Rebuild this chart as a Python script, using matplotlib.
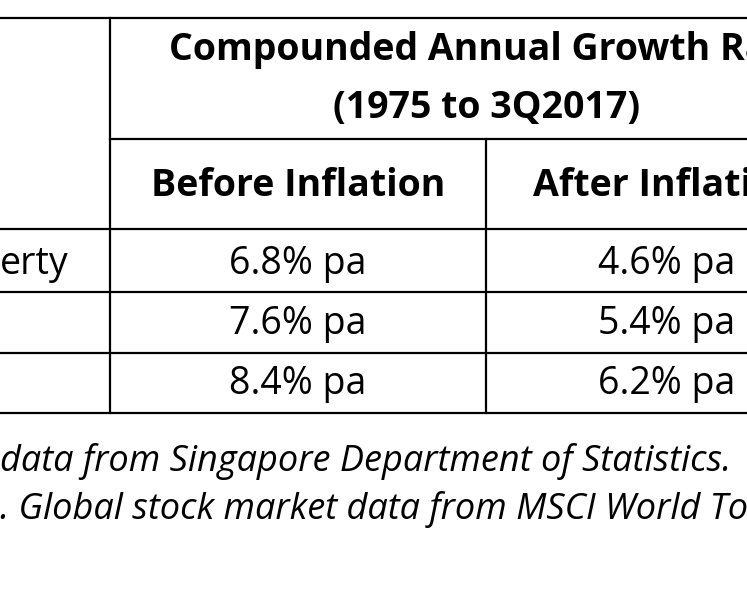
import matplotlib

matplotlib.use("Agg")
import matplotlib.pyplot as plt

header_top = ["Compounded Annual Growth Rate", "(1975 to 3Q2017)"]
col_headers = ["Before Inflation", "After Inflation"]
row_labels = ["erty", "", ""]
before_vals = ["6.8% pa", "7.6% pa", "8.4% pa"]
after_vals = ["4.6% pa", "5.4% pa", "6.2% pa"]
footnotes = [
    "data from Singapore Department of Statistics.",
    ". Global stock market data from MSCI World Total Return Index",
]

W, H = 747, 598
fig = plt.figure(figsize=(W / 100, H / 100), dpi=100)
ax = fig.add_axes([0, 0, 1, 1])
ax.set_xlim(0, W)
ax.set_ylim(H, 0)
ax.axis("off")

font = "Open Sans"
lw = 1.6
k = "black"

# grid lines
ax.plot([0, W], [18, 18], color=k, lw=lw)
ax.plot([110, W], [139, 139], color=k, lw=lw)
for y in (229, 292, 353, 413):
    ax.plot([0, W], [y, y], color=k, lw=lw)
ax.plot([110, 110], [18, 413], color=k, lw=lw)
ax.plot([486, 486], [139, 413], color=k, lw=lw)

bold = dict(fontsize=27, fontweight="bold", family=font, va="center", ha="center")
body = dict(fontsize=27, family=font, va="center", ha="center")

ax.text(487, 50, header_top[0], **bold)
ax.text(487, 108, header_top[1], **bold)
ax.text(298, 186, col_headers[0], **bold)
ax.text(533, 186, col_headers[1], fontsize=27, fontweight="bold", family=font,
        va="center", ha="left")

row_y = [264, 324, 384]
for y, lab, b, a in zip(row_y, row_labels, before_vals, after_vals):
    ax.text(0, y, lab, fontsize=27, family=font, va="center", ha="left")
    ax.text(298, y, b, **body)
    ax.text(598, y, a, fontsize=27, family=font, va="center", ha="left")

for y, t in zip([462, 510], footnotes):
    ax.text(0, y, t, fontsize=26, family=font, style="italic", va="center", ha="left")

fig.savefig("out.png", dpi=100, facecolor="white")
